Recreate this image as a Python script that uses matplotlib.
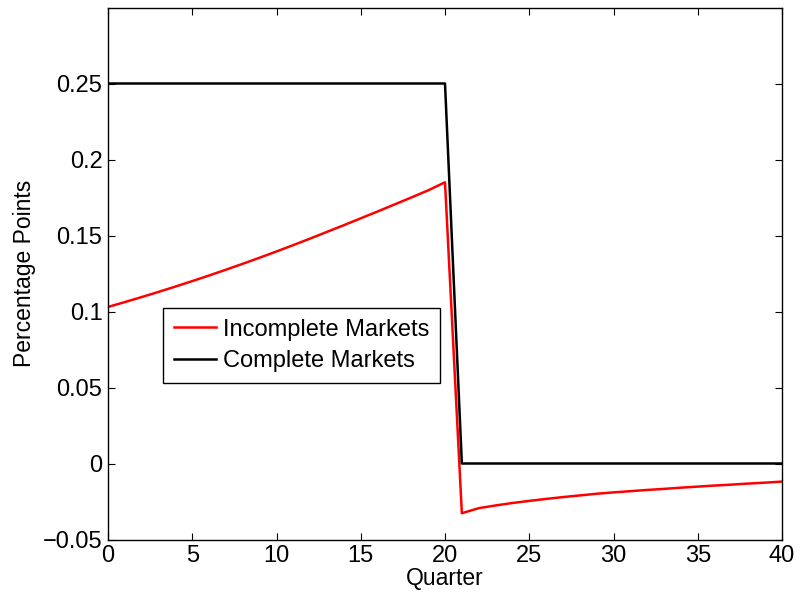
import matplotlib
matplotlib.use("Agg")
from matplotlib import pyplot as plt

plt.rcParams['font.family'] = ['Liberation Sans', 'DejaVu Sans']

quarters = list(range(41))
# incomplete markets
incomplete = [0.1030, 0.1062, 0.1095, 0.1129, 0.1164, 0.1200, 0.1237, 0.1275, 0.1314, 0.1354,
              0.1395, 0.1437, 0.1480, 0.1524, 0.1568, 0.1613, 0.1658, 0.1704, 0.1750, 0.1797,
              0.1850, -0.0327, -0.0294, -0.0276, -0.0260, -0.0246, -0.0233, -0.0221,
              -0.0210, -0.0199, -0.0190, -0.0182, -0.0174, -0.0167, -0.0159, -0.0152,
              -0.0145, -0.0139, -0.0132, -0.0126, -0.0119]
complete = [0.25] * 21 + [0.0] * 20
yticks = [-0.05, 0, 0.05, 0.1, 0.15, 0.2, 0.25]
ytick_labels = ['\u22120.05', '0', '0.05', '0.1', '0.15', '0.2', '0.25']

fig = plt.figure(figsize=(8, 5.96), dpi=100)
ax = fig.add_axes([108 / 800, 1 - 539.5 / 596, (782 - 108) / 800, (539.5 - 7.5) / 596])
ax.plot(quarters, incomplete, color='red', lw=1.8, label='Incomplete Markets')
ax.plot(quarters, complete, color='black', lw=1.8, label='Complete Markets')
ax.set_xlim(0, 40)
ax.set_ylim(-0.05, 0.3)
ax.set_xticks(range(0, 41, 5))
ax.set_yticks(yticks)
ax.set_yticklabels(ytick_labels)
ax.tick_params(direction='in', top=True, right=True, length=5, labelsize=17, pad=4)
ax.set_xlabel('Quarter', fontsize=16.5, labelpad=0)
ax.set_ylabel('Percentage Points', fontsize=16.5, labelpad=5)
for s in ax.spines.values():
    s.set_linewidth(1.0)
leg = ax.legend(loc='upper left', bbox_to_anchor=((163 - 108) / 674, 1 - (308 - 7.5) / 532),
                fontsize=17, fancybox=False, edgecolor='black', framealpha=1,
                borderpad=0.45, labelspacing=0.4, handlelength=1.8, handletextpad=0.3,
                borderaxespad=0)
leg.get_frame().set_linewidth(1.0)
fig.savefig('out.png', dpi=100)
